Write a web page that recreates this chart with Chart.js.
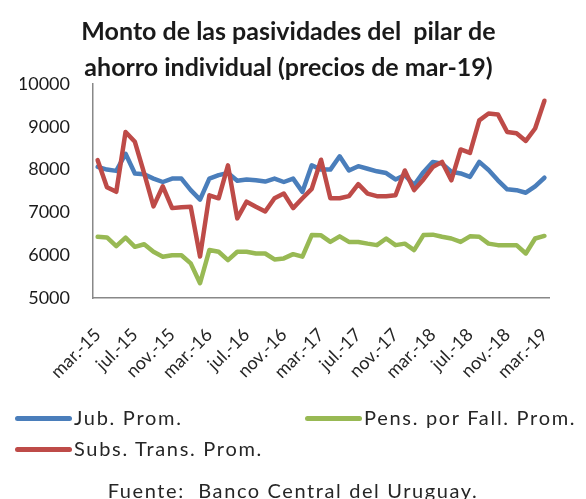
<!DOCTYPE html>
<html>
<head>
<meta charset="utf-8">
<script src="https://cdn.jsdelivr.net/npm/chart.js@4.4.1/dist/chart.umd.min.js"></script>
<style>
  body { margin: 0; background: #fff; }
  #caja { position: relative; width: 586px; height: 499px; font-family: Lato, sans-serif; color: #262626; }
  #grafico { position: absolute; left: 0; top: 0; }
  .ley { position: absolute; font-size: 20px; line-height: 22px; letter-spacing: 1.7px; white-space: nowrap; }
  .ley i { display: inline-block; width: 57px; height: 5px; border-radius: 3px; vertical-align: middle; margin-right: 2px; position: relative; top: -1px; }
  #fuente { position: absolute; left: 0; width: 586px; top: 478px; text-align: center; font-size: 20px; letter-spacing: 1.6px; white-space: pre; }
</style>
</head>
<body>
<div id="caja">
  <canvas id="grafico" width="586" height="499"></canvas>
  <div class="ley" style="left:15px; top:406px;"><i style="background:#4a7ebb"></i>Jub. Prom.</div>
  <div class="ley" style="left:305px; top:406px;"><i style="background:#98b954"></i>Pens. por Fall. Prom.</div>
  <div class="ley" style="left:15px; top:437px;"><i style="background:#be4b48"></i>Subs. Trans. Prom.</div>
  <div id="fuente">Fuente:  Banco Central del Uruguay.</div>
</div>
<script>
// meses de mar-15 a mar-19
const meses = ['ene.', 'feb.', 'mar.', 'abr.', 'may.', 'jun.', 'jul.', 'ago.', 'sep.', 'oct.', 'nov.', 'dic.'];
const categorias = [];
for (let k = 0; k < 49; k++) {
    const m = (2 + k) % 12;
    const a = 15 + Math.floor((2 + k) / 12);
    categorias.push(meses[m] + '-' + a);
}

const jubProm = [8065, 8000, 7970, 8370, 7910, 7890, 7790, 7710, 7790, 7790, 7520, 7300,
    7790, 7870, 7920, 7740, 7770, 7750, 7720, 7790, 7710, 7790, 7480, 8100,
    8000, 8000, 8310, 7980, 8080, 8020, 7960, 7920, 7770, 7870, 7640, 7940,
    8180, 8140, 7950, 7910, 7830, 8180, 7990, 7750, 7540, 7520, 7460, 7610, 7810];

const pensProm = [6430, 6415, 6210, 6410, 6195, 6255, 6080, 5965, 6000, 6000, 5810, 5345,
    6120, 6080, 5885, 6080, 6080, 6040, 6040, 5900, 5925, 6025, 5965, 6470,
    6465, 6310, 6440, 6310, 6310, 6270, 6235, 6390, 6235, 6270, 6120, 6470,
    6480, 6430, 6390, 6310, 6440, 6430, 6270, 6235, 6235, 6235, 6040, 6390, 6450];

const subsProm = [8220, 7590, 7480, 8880, 8650, 7910, 7140, 7610, 7100, 7120, 7130, 5970,
    7400, 7330, 8100, 6860, 7250, 7130, 7020, 7330, 7440, 7100, 7330, 7550,
    8230, 7330, 7330, 7380, 7660, 7440, 7380, 7380, 7400, 7980, 7520, 7770,
    8060, 8180, 7750, 8470, 8390, 9150, 9310, 9290, 8880, 8850, 8670, 8960, 9610];

const ctx = document.getElementById('grafico');

new Chart(ctx, {
    type: 'line',
    data: {
        labels: categorias,
        datasets: [
            { label: 'Jub. Prom.', data: jubProm, borderColor: '#4a7ebb', order: 3 },
            { label: 'Pens. por Fall. Prom.', data: pensProm, borderColor: '#98b954', order: 2 },
            { label: 'Subs. Trans. Prom.', data: subsProm, borderColor: '#be4b48', order: 1 }
        ]
    },
    options: {
        responsive: false,
        animation: false,
        elements: {
            line: { borderWidth: 4.5, tension: 0, borderJoinStyle: 'round', borderCapStyle: 'round' },
            point: { radius: 0 }
        },
        layout: { padding: { left: 20, right: 29, top: 0, bottom: 121 } },
        plugins: {
            legend: { display: false },
            tooltip: { enabled: false },
            title: {
                display: true,
                text: ['Monto de las pasividades del  pilar de', 'ahorro individual (precios de mar-19)'],
                color: '#1a1a1a',
                font: { family: 'Lato', size: 25, weight: 'bold', lineHeight: 1.44 },
                padding: { top: 14, bottom: -2 }
            }
        },
        scales: {
            x: {
                offset: true,
                grid: { display: false, drawTicks: false },
                border: { color: '#888888', width: 1.5 },
                afterFit: function (escala) { escala.height = 80; },
                ticks: {
                    autoSkip: false,
                    maxRotation: 45,
                    minRotation: 45,
                    padding: 26,
                    color: '#262626',
                    font: { family: 'Lato', size: 18 },
                    callback: function (valor, i) {
                        return i % 4 === 0 ? this.getLabelForValue(valor) : null;
                    }
                }
            },
            y: {
                min: 5000,
                max: 10000,
                grid: { display: false, drawTicks: false },
                border: { color: '#888888', width: 1.5 },
                afterFit: function (escala) { escala.width = 73; },
                ticks: {
                    stepSize: 1000,
                    padding: 23,
                    color: '#1a1a1a',
                    font: { family: 'Lato', size: 18 },
                    callback: function (valor) { return String(valor); }
                }
            }
        }
    }
});
</script>
</body>
</html>
